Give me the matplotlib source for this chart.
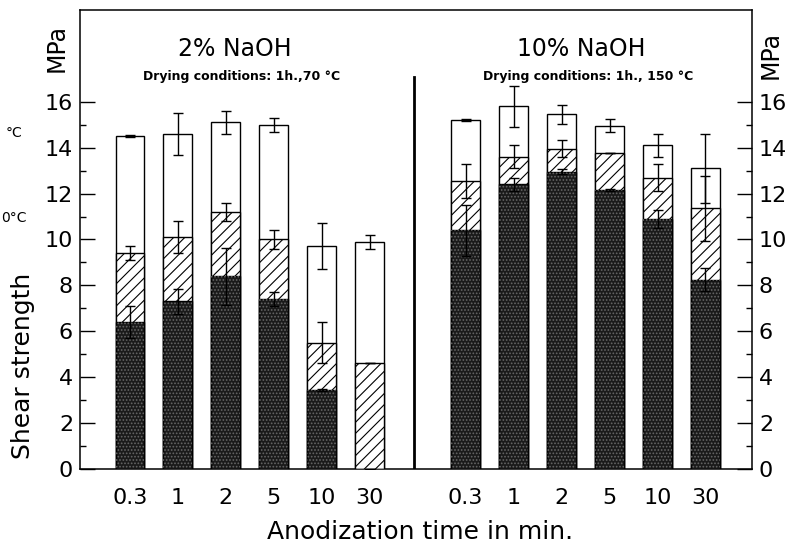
import matplotlib as mpl
import matplotlib.pyplot as plt
import numpy as np

mpl.use('Agg')

# anodization times (min) shown under each bar group
times = ['0.3', '1', '2', '5', '10', '30']

# 2% NaOH, drying 1h at 70 C
naoh2_total = [14.5, 14.6, 15.1, 15.0, 9.7, 9.9]
naoh2_total_err = [0.05, 0.9, 0.5, 0.3, 1.0, 0.3]
naoh2_mid = [9.4, 10.1, 11.2, 10.0, 5.5, 4.6]
naoh2_mid_err = [0.3, 0.7, 0.4, 0.4, 0.9, 0.0]
naoh2_low = [6.4, 7.3, 8.4, 7.4, 3.45, 0.0]
naoh2_low_err = [0.7, 0.55, 1.25, 0.3, 0.05, 0.0]

# 10% NaOH, drying 1h at 150 C
naoh10_total = [15.2, 15.8, 15.45, 14.95, 14.1, 13.1]
naoh10_total_err = [0.05, 0.9, 0.4, 0.28, 0.5, 1.5]
naoh10_mid = [12.55, 13.6, 13.95, 13.75, 12.7, 11.35]
naoh10_mid_err = [0.73, 0.5, 0.37, 0.0, 0.6, 1.4]
naoh10_low = [10.4, 12.4, 12.95, 12.15, 10.9, 8.25]
naoh10_low_err = [1.1, 0.27, 0.1, 0.05, 0.4, 0.5]

plt.rcParams['font.family'] = ['DejaVu Sans']
plt.rcParams['hatch.linewidth'] = 0.8

fig = plt.figure(figsize=(7.93, 5.48), dpi=100)
ax = fig.add_axes([0.1009, 0.1442, 0.8474, 0.8376])

x_left = np.arange(1, 7)
x_right = np.arange(8, 14)
width = 0.6


def draw_group(xs, total, total_err, mid, mid_err, low, low_err):
    ax.bar(xs, total, width, color='white', edgecolor='black', lw=1.0, zorder=2)
    ax.bar(xs, mid, width, color='white', edgecolor='black', lw=1.0,
           hatch='///', zorder=3)
    ax.bar(xs, low, width, color='#1a1a1a', edgecolor='black', lw=1.0,
           zorder=4)
    ax.bar(xs, low, width, color='none', edgecolor='#666666', lw=0,
           hatch='.....', zorder=4.5)
    for vals, errs in [(total, total_err), (mid, mid_err), (low, low_err)]:
        ax.errorbar(xs, vals, yerr=errs, fmt='none', ecolor='black',
                    elinewidth=1.0, capsize=3.5, capthick=1.0, zorder=6)


draw_group(x_left, naoh2_total, naoh2_total_err, naoh2_mid, naoh2_mid_err,
           naoh2_low, naoh2_low_err)
draw_group(x_right, naoh10_total, naoh10_total_err, naoh10_mid, naoh10_mid_err,
           naoh10_low, naoh10_low_err)

# divider between the two NaOH series
ax.plot([6.92, 6.92], [0, 17.1], color='black', lw=2.0, zorder=5)

ax.set_xlim(-0.04, 13.97)
ax.set_ylim(0, 20)

ax.set_xticks(list(x_left) + list(x_right))
ax.set_xticklabels(times + times, fontsize=16)
ax.tick_params(axis='x', length=0, pad=14)

ax.set_yticks(np.arange(0, 17, 2))
ax.set_yticks(np.arange(1, 17, 2), minor=True)
ax.tick_params(axis='y', which='major', direction='in', length=11, width=1,
               labelsize=16, pad=5, left=True, right=True,
               labelleft=True, labelright=True)
ax.tick_params(axis='y', which='minor', direction='in', length=4, width=1,
               left=True, right=True)
for sp in ax.spines.values():
    sp.set_linewidth(1.1)

ax.text(0.231, 0.915, '2% NaOH', transform=ax.transAxes, ha='center',
        va='center', fontsize=17)
ax.text(0.24, 0.856, 'Drying conditions: 1h.,70 \u00b0C', transform=ax.transAxes,
        ha='center', va='center', fontsize=9, fontweight='bold')
ax.text(0.746, 0.915, '10% NaOH', transform=ax.transAxes, ha='center',
        va='center', fontsize=17)
ax.text(0.756, 0.856, 'Drying conditions: 1h., 150 \u00b0C',
        transform=ax.transAxes, ha='center', va='center', fontsize=9,
        fontweight='bold')

fig.text(0.53, 0.029, 'Anodization time in min.', ha='center', va='center',
         fontsize=18)
fig.text(0.029, 0.332, 'Shear strength', rotation=90, ha='center',
         va='center', fontsize=18)
fig.text(0.072, 0.912, 'MPa', rotation=90, ha='center', va='center',
         fontsize=17)
fig.text(0.972, 0.9, 'MPa', rotation=90, ha='center', va='center',
         fontsize=17)

# fragments of a legend clipped at the left edge of the scan
fig.text(0.018, 0.758, '\u00b0C', ha='center', va='center', fontsize=10)
fig.text(0.002, 0.602, '0\u00b0C', ha='left', va='center', fontsize=10)

plt.savefig('out.png', dpi=100)
